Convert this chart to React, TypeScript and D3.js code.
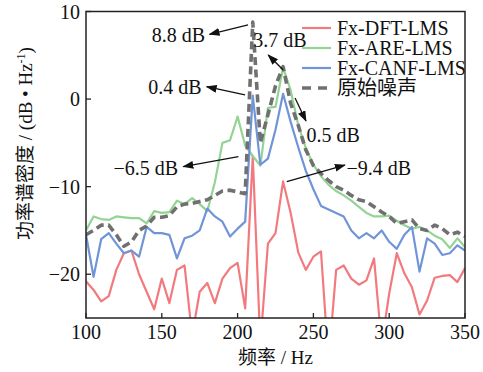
import React from 'react';
import * as d3 from 'd3';

const freqs = [100, 105, 110, 115, 120, 125, 130, 135, 140, 145, 150, 155, 160, 165, 170, 175, 180, 185, 190, 195, 200, 205, 210, 215, 220, 225, 230, 235, 240, 245, 250, 255, 260, 265, 270, 275, 280, 285, 290, 295, 300, 305, 310, 315, 320, 325, 330, 335, 340, 345, 350];

const dftLms = [-20.8, -21.8, -23.1, -22.5, -19.5, -17.6, -17.3, -20.0, -22.0, -24.0, -20.5, -23.3, -19.5, -19.0, -27, -22, -21, -23.3, -20.5, -19.3, -18.7, -23.9, -6.5, -28, -16.5, -15.3, -9.4, -13, -17.5, -19.5, -18, -17.4, -30, -19.5, -19.0, -20.5, -21.2, -20.7, -18.2, -28, -22.2, -17.6, -19.9, -21.5, -24.6, -23, -20.4, -20.2, -20.1, -20.9, -19.3];

const areLms = [-15.0, -13.4, -13.7, -13.8, -13.4, -13.5, -13.6, -13.6, -14.2, -12.8, -13.0, -12.9, -11.6, -12.0, -11.3, -12.0, -12.8, -9.5, -5.0, -4.7, -2.0, -5.3, -6.5, -7.6, -1.0, -0.9, 3.6, 1.0, -3.0, -5.6, -7.5, -8.8, -9.8, -10.5, -11.0, -11.6, -12.3, -13.0, -13.4, -13.4, -13.3, -13.9, -14.4, -14.8, -14.6, -15.0, -15.6, -16.0, -17.0, -15.9, -16.9];

const canfLms = [-15.5, -20.3, -16.0, -15.3, -16.5, -17.6, -17.3, -18.0, -14.6, -15.3, -15.3, -15.5, -18.2, -15.9, -15.6, -15.0, -12.5, -13.4, -14.0, -15.7, -14.8, -14.0, 0.4, -7.5, -6.8, -3.5, 0.6, -2.6, -5.5, -8.2, -10.3, -12.2, -12.6, -13.0, -13.4, -15.0, -15.9, -15.3, -15.9, -15.0, -16.3, -17.1, -15.5, -14.6, -19.7, -15.9, -16.5, -17.8, -17.6, -16.7, -17.3];

const rawNoise = [-15.5, -15.0, -14.4, -14.4, -15.5, -16.8, -16.3, -15.0, -14.5, -13.5, -13.5, -13.3, -12.3, -12.0, -11.9, -11.7, -11.5, -11.0, -10.5, -10.4, -10.6, -10.8, 8.8, -5.0, -1.8, 1.5, 3.7, -0.5, -3.0, -5.8, -7.6, -8.5, -9.3, -10.0, -10.4, -11.0, -11.5, -11.7, -12.3, -12.9, -13.4, -14.2, -14.0, -13.8, -14.8, -15.0, -14.4, -14.8, -15.5, -15.2, -15.7];

const xTicks = [100, 150, 200, 250, 300, 350];
const yTicks = [-20, -10, 0, 10];
const seriesNames = ['Fx-DFT-LMS', 'Fx-ARE-LMS', 'Fx-CANF-LMS', '原始噪声'];
const seriesColors = ['#f27a7e', '#93d494', '#7094d8', '#707070'];

const annotations = [
  { text: '8.8 dB', tx: 178.5, ty: 7.32, anchor: 'end', x1: 206.9, y1: 8.46, x2: 181.5, y2: 7.4 },
  { text: '0.4 dB', tx: 176.3, ty: 1.38, anchor: 'end', x1: 204.9, y1: 0.47, x2: 179.6, y2: 1.42 },
  { text: '−6.5 dB', tx: 160.7, ty: -7.87, anchor: 'end', x1: 200.5, y1: -6.58, x2: 164.2, y2: -7.72 },
  { text: '3.7 dB', tx: 210.4, ty: 6.75, anchor: 'start', x1: 230.1, y1: 3.32, x2: 220.2, y2: 5.04 },
  { text: '0.5 dB', tx: 245.5, ty: -4.1, anchor: 'start', x1: 237.9, y1: 0.13, x2: 245.1, y2: -2.5 },
  { text: '−9.4 dB', tx: 271.9, ty: -7.9, anchor: 'start', x1: 232.4, y1: -9.43, x2: 270.8, y2: -7.53 },
];

const W = 483, H = 372;
const L = 86, R = 465, T = 11.5, B = 318;
const serif = "'Liberation Serif', 'Times New Roman', 'Noto Sans CJK SC', serif";

export default function App() {
  const x = d3.scaleLinear().domain([100, 350]).range([L, R]);
  const y = d3.scaleLinear().domain([-25, 10]).range([B, T]);
  const line = d3.line<number>().x((_, i) => x(freqs[i])).y(d => y(d));
  const allSeries = [dftLms, areLms, canfLms, rawNoise];
  const fmt = (v: number) => (v < 0 ? '−' + Math.abs(v) : String(v));

  return (
    <svg width={W} height={H} style={{ position: 'absolute', left: 0, top: 0, background: '#fff' }} fontFamily={serif}>
      <defs>
        <clipPath id="plot"><rect x={L} y={T} width={R - L} height={B - T} /></clipPath>
        <marker id="arr" markerUnits="userSpaceOnUse" markerWidth={11} markerHeight={8} refX={10} refY={4} orient="auto">
          <path d="M0,0 L11,4 L0,8 z" fill="#111" />
        </marker>
      </defs>
      <g clipPath="url(#plot)">
        {allSeries.map((s, i) => (
          <path key={i} d={line(s) || ''} fill="none" stroke={seriesColors[i]}
            strokeWidth={i === 3 ? 3.6 : 2.2} strokeDasharray={i === 3 ? '8 4.5' : undefined}
            strokeLinejoin="round" />
        ))}
      </g>
      {annotations.map((a, i) => (
        <g key={i}>
          <line x1={x(a.x1)} y1={y(a.y1)} x2={x(a.x2)} y2={y(a.y2)} stroke="#111" strokeWidth={1.3} markerEnd="url(#arr)" />
          <text x={x(a.tx)} y={y(a.ty) + 7} textAnchor={a.anchor as any} fontSize={20} fill="#111">{a.text}</text>
        </g>
      ))}
      {seriesNames.map((n, i) => (
        <g key={n}>
          <line x1={302} x2={331} y1={28 + i * 20} y2={28 + i * 20} stroke={seriesColors[i]}
            strokeWidth={i === 3 ? 3.6 : 2.2} strokeDasharray={i === 3 ? '9 7' : undefined} />
          <text x={337} y={28 + i * 20 + 6.8} fontSize={20} fill="#111">{n}</text>
        </g>
      ))}
      <rect x={L} y={T} width={R - L} height={B - T} fill="none" stroke="#222" strokeWidth={1.5} />
      {xTicks.map(t => (
        <g key={t}>
          <line x1={x(t)} x2={x(t)} y1={B} y2={B - 5} stroke="#222" strokeWidth={1.3} />
          <text x={x(t)} y={339} textAnchor="middle" fontSize={20} fill="#111">{t}</text>
        </g>
      ))}
      {yTicks.map(t => (
        <g key={t}>
          <line x1={L} x2={L + 5} y1={y(t)} y2={y(t)} stroke="#222" strokeWidth={1.3} />
          <text x={80} y={y(t) + 7} textAnchor="end" fontSize={20} fill="#111">{fmt(t)}</text>
        </g>
      ))}
      <text x={(L + R) / 2} y={364} textAnchor="middle" fontSize={19} fill="#111">频率 / Hz</text>
      <text transform={`translate(32,143.5) rotate(-90)`} textAnchor="middle" fontSize={19} fill="#111">
        功率谱密度 / (dB • Hz<tspan dy={-7} fontSize={12}>-1</tspan><tspan dy={7}>)</tspan>
      </text>
    </svg>
  );
}
